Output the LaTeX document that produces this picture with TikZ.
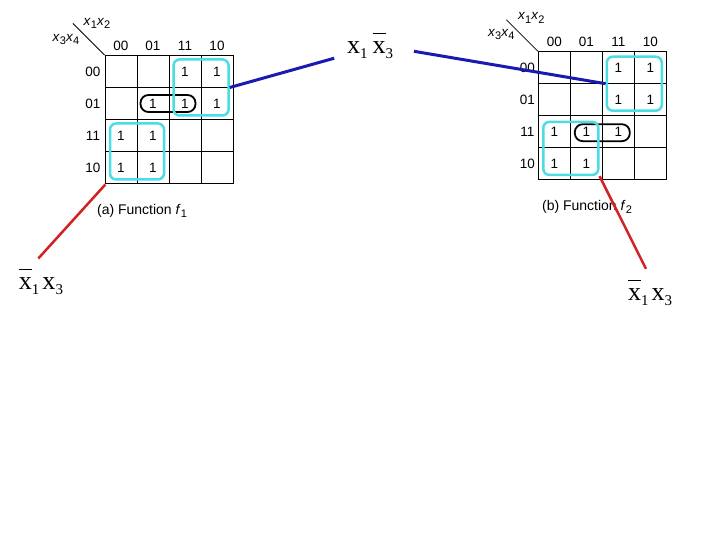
\documentclass[tikz,border=0pt]{standalone}
\usepackage{fontspec}
\setmainfont{Liberation Sans}
\newfontfamily\timesfont{Liberation Serif}
\definecolor{loopcyan}{HTML}{4CDCE4}
\definecolor{linkblue}{HTML}{1A1AB0}
\definecolor{linkred}{HTML}{D42020}
\newcommand{\idx}[1]{\raisebox{-5pt}{\fontsize{15}{15}\selectfont #1}}
\newcommand{\lsub}[1]{\raisebox{-3.5pt}{\fontsize{11}{11}\selectfont #1}}
\newcommand{\xbar}{\rlap{\rule[20pt]{13pt}{0.8pt}}x}

\begin{document}
\begin{tikzpicture}[x=1pt,y=-1pt,font=\fontsize{13.5}{15}\selectfont,
 kcell/.style={draw,line width=0.8pt,minimum width=32pt,minimum height=32pt,inner sep=0pt},
 one/.style={inner sep=0pt},
 grp/.style={draw=loopcyan,line width=2.5pt,rounded corners=6pt,inner sep=0pt},
 pill/.style={draw=black,line width=1.8pt,rounded corners=8pt,minimum width=55pt,minimum height=17pt,inner sep=0pt},
 prod/.style={font=\timesfont\fontsize{26}{28}\selectfont,inner sep=3pt}]
\useasboundingbox (0,0) rectangle (720,540);
% map (a)
\begin{scope}[shift={(105,55.5)}]
\foreach \r in {1,...,4}
  \foreach \c in {1,...,4}
    \node[kcell] (a\r\c) at ({32*\c-16},{32*\r-16}) {};
\foreach \c/\t in {1/00,2/01,3/11,4/10} \node (colA\c) at ({32*\c-16},-10) {\t};
\foreach \r/\t in {1/00,2/01,3/11,4/10} \node (rowA\r) at (-12,{32*\r-16}) {\t};
\coordinate (cornA) at (-32,-32);
\draw[line width=0.8pt] (cornA) -- (a11.north west);
\node (topA) at (-8,-32) {\textit{x}\lsub{1}\textit{x}\lsub{2}};
\node (leftA) at (-39,-16) {\textit{x}\lsub{3}\textit{x}\lsub{4}};
\foreach \r/\c in {1/3,1/4,2/2,2/3,2/4,3/1,3/2,4/1,4/2}
  \node[one] (va\r\c) at (a\r\c) {1};
\node[pill] (pa) at (63,48) {};
\node[grp,minimum width=55pt,minimum height=56pt] (la1) at (96,32) {};
\node[grp,minimum width=54pt,minimum height=56pt] (la2) at (32,96) {};
\end{scope}
\node[font=\fontsize{14}{16}\selectfont] (capA) at (142,211) {(a) Function \textit{f}\lsub{1}};
% map (b)
\begin{scope}[shift={(538.3,51.7)}]
\foreach \r in {1,...,4}
  \foreach \c in {1,...,4}
    \node[kcell] (b\r\c) at ({32*\c-16},{32*\r-16}) {};
\foreach \c/\t in {1/00,2/01,3/11,4/10} \node (colB\c) at ({32*\c-16},-9.5) {\t};
\foreach \r/\t in {1/00,2/01,3/11,4/10} \node (rowB\r) at (-11,{32*\r-16}) {\t};
\coordinate (cornB) at (-32,-32);
\draw[line width=0.8pt] (cornB) -- (b11.north west);
\node (topB) at (-7,-34) {\textit{x}\lsub{1}\textit{x}\lsub{2}};
\node (leftB) at (-37,-17) {\textit{x}\lsub{3}\textit{x}\lsub{4}};
\foreach \r/\c in {1/3,1/4,2/3,2/4,3/1,3/2,3/3,4/1,4/2}
  \node[one] (vb\r\c) at (b\r\c) {1};
\node[pill] (pb) at (64,81) {};
\node[grp,minimum width=55pt,minimum height=54pt] (lb1) at (96,32) {};
\node[grp,minimum width=55pt,minimum height=53pt] (lb2) at (32.5,96.7) {};
\end{scope}
\node[font=\fontsize{14}{16}\selectfont] (capB) at (587,207) {(b) Function \textit{f}\lsub{2}};
% product terms
\node[prod] (prodA) at (370,46) {x\idx{1}\hspace{5pt}\xbar\idx{3}};
\node[prod] (prodL) at (41,282) {\xbar\idx{1}\hspace{3pt}x\idx{3}};
\node[prod] (prodR) at (650,293) {\xbar\idx{1}\hspace{3pt}x\idx{3}};
\draw[linkblue,line width=3pt,shorten >=10pt] (la1.east) -- (prodA.200);
\draw[linkblue,line width=3pt,shorten <=18pt] (prodA.-5) -- (lb1.west);
\draw[linkred,line width=2.5pt,shorten <=5pt,shorten >=10pt] (la2.south west) -- (prodL.120);
\draw[linkred,line width=2.5pt,shorten >=9pt] (lb2.south east) -- (prodR.north);
\end{tikzpicture}
\end{document}
